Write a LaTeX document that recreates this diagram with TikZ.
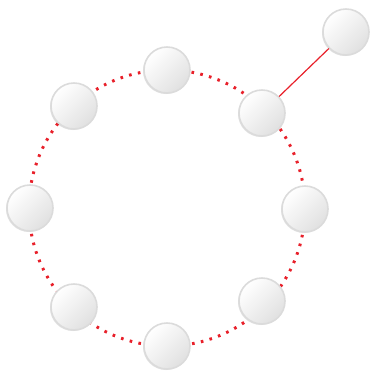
\documentclass[tikz,border=0pt]{standalone}
\usetikzlibrary{shadows}
\definecolor{dotred}{HTML}{E8202A}
\begin{document}
\begin{tikzpicture}[x=1pt,y=-1pt,
  ball/.style={circle,minimum size=46pt,inner sep=0pt,draw=black!14,line width=1.6pt,
    top color=white,bottom color=black!12,shading angle=45,
    drop shadow={shadow xshift=-1pt,shadow yshift=-1pt,opacity=0.18,fill=black!60}},
  dotline/.style={draw=dotred,line width=3pt,dash pattern=on 2.6pt off 6.4pt},
  link/.style={draw=dotred,line width=1.2pt}]
\useasboundingbox (0,0) rectangle (370,373);
\coordinate (c) at (167,208);
\draw[dotline] (c) circle[radius=138];
\node[ball] (n1) at (167,70) {};
\node[ball] (n2) at (74,106) {};
\node[ball] (n3) at (30,208) {};
\node[ball] (n4) at (74,307) {};
\node[ball] (n5) at (167,346) {};
\node[ball] (n6) at (262,301) {};
\node[ball] (n7) at (305,209) {};
\node[ball] (n8) at (262,113) {};
\node[ball] (n9) at (346,32) {};
\draw[link] (n8) -- (n9);
\end{tikzpicture}
\end{document}
